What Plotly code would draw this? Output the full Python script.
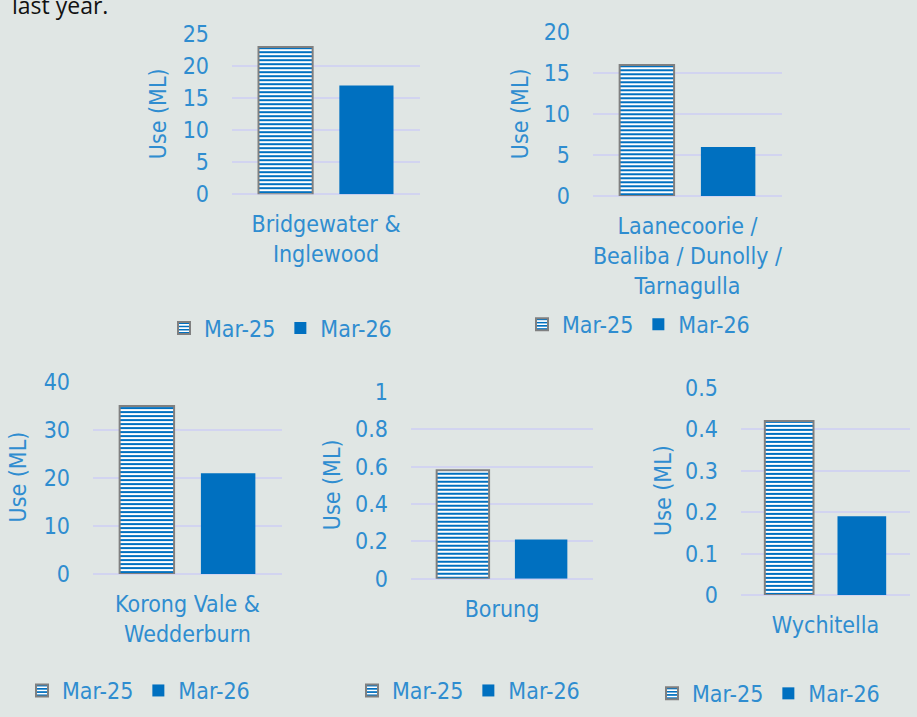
import plotly.graph_objects as go

# ---- data ----
regions = ["Bridgewater &<br>Inglewood",
           "Laanecoorie /<br>Bealiba / Dunolly /<br>Tarnagulla",
           "Korong Vale &<br>Wedderburn",
           "Borung",
           "Wychitella"]
mar25 = [23, 16, 35, 0.58, 0.42]
mar26 = [17, 6, 21, 0.21, 0.19]
y_max = [25, 20, 40, 1, 0.5]
y_dtick = [5, 5, 10, 0.2, 0.1]
series_names = ["Mar-25", "Mar-26"]

W, H = 917, 717
BG = "#E0E6E4"
BLUE = "#0070C0"
TXT = "#2F8DD0"
GRID = "#D2D4F0"
FONT = "Liberation Sans Narrow, DejaVu Sans Condensed, Roboto, sans-serif"

# plot boxes in pixels (left, right, top, bottom)
boxes = [(232, 420, 22, 188),
         (593, 782, 20, 190),
         (93, 282, 383, 582),
         (411, 593, 393, 587),
         (741, 910, 389, 604)]
title_pos = [(158, 105), (520, 105), (18, 482), (332, 490), (663, 496)]
legend_pos = [(164, 327), (522, 323), (22, 703), (352, 703), (652, 706)]


def px(x):
    return x / W


def py(y):
    return 1 - y / H


fig = go.Figure()
for i in range(5):
    ax = "" if i == 0 else str(i + 1)
    lg = "legend" if i == 0 else f"legend{i + 1}"
    fig.add_trace(go.Bar(
        x=[regions[i]], y=[mar25[i]], name=series_names[0],
        xaxis="x" + ax, yaxis="y" + ax, legend=lg,
        marker=dict(color="white",
                    pattern=dict(shape="-", fgcolor=BLUE, bgcolor="white",
                                 size=4, solidity=0.5, fillmode="replace",
                                 fgopacity=1),
                    line=dict(color="#808080", width=2)),
    ))
    fig.add_trace(go.Bar(
        x=[regions[i]], y=[mar26[i]], name=series_names[1],
        xaxis="x" + ax, yaxis="y" + ax, legend=lg,
        marker=dict(color=BLUE, line=dict(width=0)),
    ))

layout = dict(
    width=W, height=H,
    margin=dict(l=0, r=0, t=0, b=0),
    paper_bgcolor=BG, plot_bgcolor=BG,
    barmode="group", bargap=0.14, bargroupgap=0.33,
    font=dict(family=FONT, color=TXT, size=22),
    annotations=[],
)

for i in range(5):
    l, r, t, b = boxes[i]
    ax = "" if i == 0 else str(i + 1)
    layout["xaxis" + ax] = dict(
        domain=[px(l), px(r)], anchor="y" + ax,
        showgrid=False, showline=False, zeroline=False, ticks="",
        tickfont=dict(size=23, color=TXT), ticklabelstandoff=14,
        fixedrange=True,
    )
    layout["yaxis" + ax] = dict(
        domain=[py(b), py(t)], anchor="x" + ax,
        range=[0, y_max[i]], dtick=y_dtick[i], tick0=0,
        showgrid=True, gridcolor=GRID, gridwidth=2,
        zeroline=True, zerolinecolor=GRID, zerolinewidth=2,
        showline=False, ticks="", ticklabelstandoff=22,
        tickfont=dict(size=23, color=TXT), fixedrange=True,
    )
    lgk = "legend" if i == 0 else f"legend{i + 1}"
    lx, ly = legend_pos[i]
    layout[lgk] = dict(
        x=px(lx), y=py(ly), xanchor="left", yanchor="middle",
        orientation="h", bgcolor="rgba(0,0,0,0)",
        font=dict(size=23, color=TXT), itemwidth=30,
        tracegroupgap=0,
    )
    tx, ty = title_pos[i]
    layout["annotations"].append(dict(
        text="Use (ML)", x=px(tx), y=py(ty), xref="paper", yref="paper",
        textangle=-90, showarrow=False, xanchor="center", yanchor="middle",
        font=dict(size=23, color=TXT),
    ))

layout["annotations"].append(dict(
    text="last year.", x=px(10), y=py(-8), xref="paper", yref="paper",
    showarrow=False, xanchor="left", yanchor="middle",
    font=dict(size=23, color="#111111", family="Open Sans, sans-serif"),
))

fig.update_layout(**layout)
fig.write_html("out.html",
               config={"displayModeBar": False},
               post_script="document.body.style.margin='0px';"
                           "document.body.style.overflow='hidden';")
